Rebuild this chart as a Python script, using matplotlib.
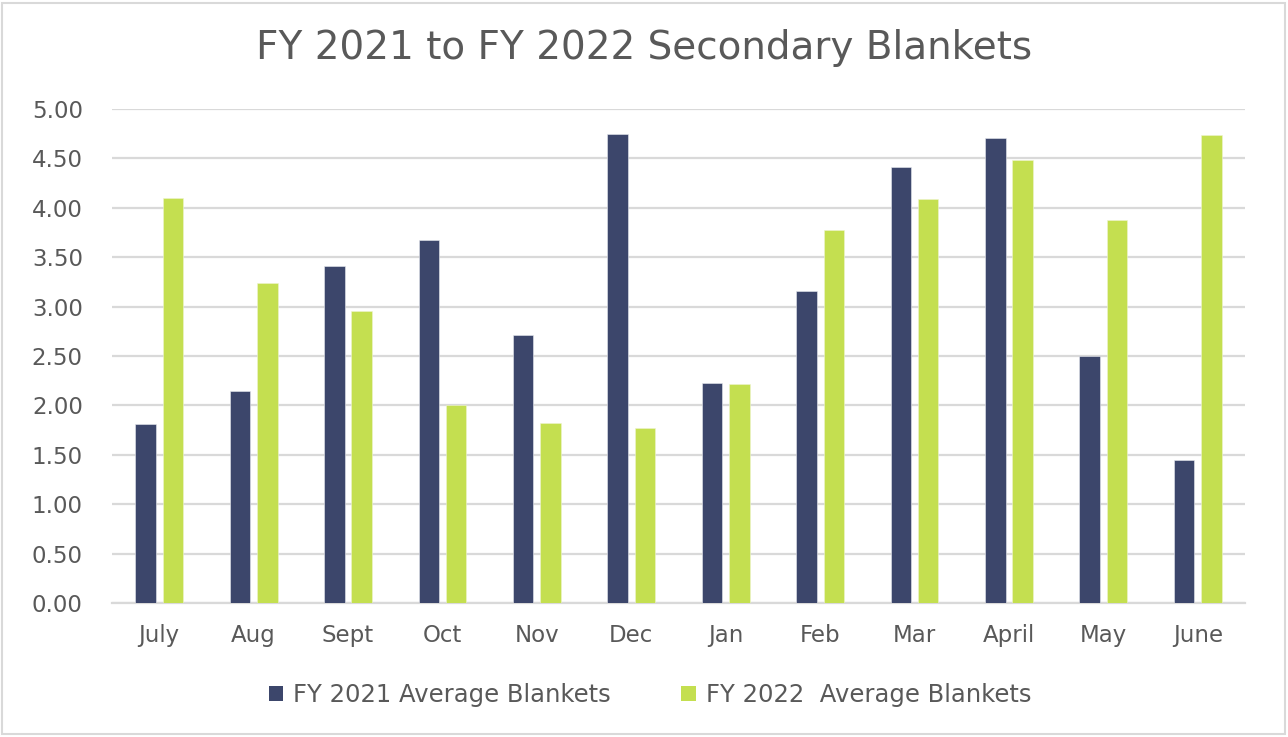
import numpy as np
import matplotlib
matplotlib.use("Agg")
import matplotlib.pyplot as plt
from matplotlib.patches import Rectangle, Patch

plt.rcParams['font.family'] = ['DejaVu Sans']

months = ["July", "Aug", "Sept", "Oct", "Nov", "Dec", "Jan", "Feb", "Mar", "April", "May", "June"]
fy2021 = [1.81, 2.15, 3.41, 3.67, 2.71, 4.75, 2.23, 3.16, 4.41, 4.71, 2.50, 1.45]
fy2022 = [4.10, 3.24, 2.96, 2.00, 1.82, 1.77, 2.22, 3.78, 4.09, 4.48, 3.88, 4.74]
yticks = [0, 0.5, 1, 1.5, 2, 2.5, 3, 3.5, 4, 4.5, 5]

NAVY = "#3c466b"
LIME = "#c4df50"
TEXT = "#595959"
GRID = "#d9d9d9"

W, H = 1288, 737
fig = plt.figure(figsize=(W / 100, H / 100), dpi=100)
fig.patches.append(Rectangle((2 / W, 3 / H), 1 - 5 / W, 1 - 6 / H, transform=fig.transFigure,
                             fill=False, edgecolor=GRID, linewidth=1.5))

ax = fig.add_axes([112 / W, (H - 603) / H, 1133 / W, 494 / H])

x = np.arange(len(months))
bw = 0.217
off = 0.145
ax.bar(x - off, fy2021, bw, color=NAVY, edgecolor="#e8eaf0", linewidth=0.4, zorder=3)
ax.bar(x + off, fy2022, bw, color=LIME, edgecolor="#eef5d0", linewidth=0.4, zorder=3)

ax.set_xlim(-0.5, len(months) - 0.5)
ax.set_ylim(0, 5)
ax.set_yticks(yticks)
ax.set_yticklabels([f"{v:.2f}" for v in yticks])
ax.set_xticks(x)
ax.set_xticklabels(months)
ax.tick_params(axis="both", length=0, labelsize=16.5, colors=TEXT)
ax.tick_params(axis="y", pad=21)
ax.tick_params(axis="x", pad=15)
ax.yaxis.grid(True, color=GRID, linewidth=1.6, zorder=0)
ax.set_axisbelow(True)
for s in ["top", "right", "left"]:
    ax.spines[s].set_visible(False)
ax.spines["bottom"].set_color(GRID)
ax.spines["bottom"].set_linewidth(1.6)

fig.text(0.5, 1 - 48 / H, "FY 2021 to FY 2022 Secondary Blankets", ha="center", va="center",
         fontsize=28, color=TEXT)

handles = [Patch(facecolor=NAVY, label="FY 2021 Average Blankets"),
           Patch(facecolor=LIME, label="FY 2022  Average Blankets")]
fig.legend(handles=handles, loc="center", bbox_to_anchor=(650 / W, 1 - 695 / H), ncol=2,
           frameon=False, fontsize=17.5, labelcolor=TEXT, handlelength=0.6, handleheight=0.6,
           handletextpad=0.4, columnspacing=2.9)

fig.savefig("out.png", dpi=100)
